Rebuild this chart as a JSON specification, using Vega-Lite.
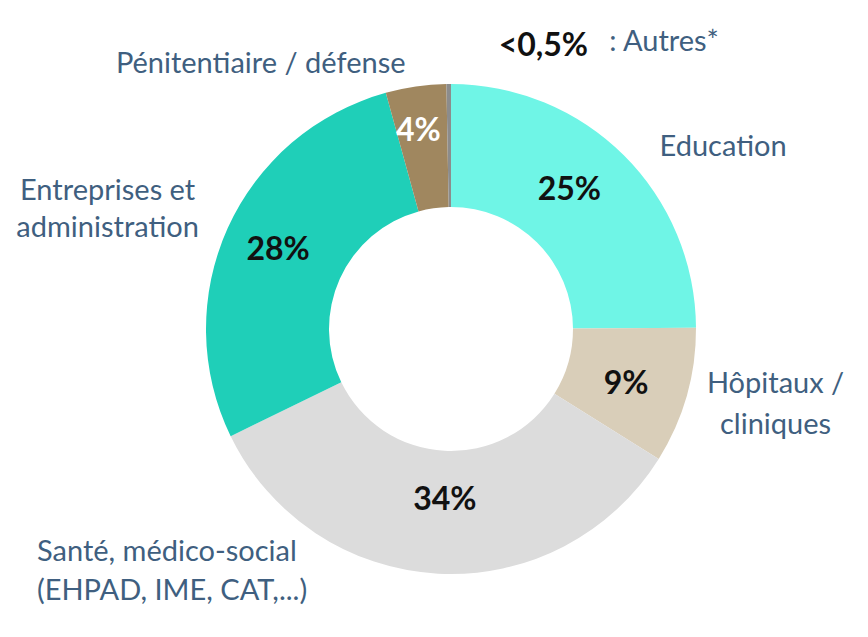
{
  "$schema": "https://vega.github.io/schema/vega-lite/v6.json",
  "autosize": "none",
  "width": 834,
  "height": 616,
  "padding": {"left": 34, "top": 21, "right": 0, "bottom": 0},
  "background": "white",
  "view": {"stroke": null},
  "data": {
    "values": [
      {"cat": "Education", "value": 25, "rank": 1, "pct": "25%", "label": "Education"},
      {"cat": "Hôpitaux / cliniques", "value": 9, "rank": 2, "pct": "9%", "label": "Hôpitaux /\ncliniques"},
      {"cat": "Santé, médico-social", "value": 34, "rank": 3, "pct": "34%", "label": "Santé, médico-social\n(EHPAD, IME, CAT,...)"},
      {"cat": "Entreprises et administration", "value": 28, "rank": 4, "pct": "28%", "label": "Entreprises et\nadministration"},
      {"cat": "Pénitentiaire / défense", "value": 4, "rank": 5, "pct": "4%", "label": "Pénitentiaire / défense"},
      {"cat": "Autres", "value": 0.3, "rank": 6, "pct": "<0,5%", "label": ": Autres*"}
    ]
  },
  "encoding": {
    "theta": {"field": "value", "type": "quantitative", "stack": true},
    "order": {"field": "rank", "type": "quantitative"}
  },
  "layer": [
    {
      "mark": {"type": "arc", "outerRadius": 245, "innerRadius": 122},
      "encoding": {
        "color": {
          "field": "cat",
          "type": "nominal",
          "legend": null,
          "scale": {
            "domain": ["Education", "Hôpitaux / cliniques", "Santé, médico-social", "Entreprises et administration", "Pénitentiaire / défense", "Autres"],
            "range": ["#6ff5e6", "#d9ceb9", "#dcdcdc", "#1fcfb8", "#a0875f", "#8c8c8c"]
          }
        }
      }
    },
    {
      "mark": {"type": "text", "radius": 182, "dx": -10, "dy": -10, "font": "Lato", "fontSize": 32, "fontWeight": "bold", "align": "center", "baseline": "middle", "color": "#111111"},
      "encoding": {"text": {"condition": {"test": "datum.rank == 1", "field": "pct"}, "value": ""}}
    },
    {
      "mark": {"type": "text", "radius": 182, "dy": 5, "font": "Lato", "fontSize": 32, "fontWeight": "bold", "align": "center", "baseline": "middle", "color": "#111111"},
      "encoding": {"text": {"condition": {"test": "datum.rank == 2", "field": "pct"}, "value": ""}}
    },
    {
      "mark": {"type": "text", "radius": 171, "dx": 3, "font": "Lato", "fontSize": 32, "fontWeight": "bold", "align": "center", "baseline": "middle", "color": "#111111"},
      "encoding": {"text": {"condition": {"test": "datum.rank == 3", "field": "pct"}, "value": ""}}
    },
    {
      "mark": {"type": "text", "radius": 182, "dx": -7, "dy": -4, "font": "Lato", "fontSize": 32, "fontWeight": "bold", "align": "center", "baseline": "middle", "color": "#111111"},
      "encoding": {"text": {"condition": {"test": "datum.rank == 4", "field": "pct"}, "value": ""}}
    },
    {
      "mark": {"type": "text", "radius": 200, "dx": -4, "font": "Lato", "fontSize": 32, "fontWeight": "bold", "align": "center", "baseline": "middle", "color": "#ffffff"},
      "encoding": {"text": {"condition": {"test": "datum.rank == 5", "field": "pct"}, "value": ""}}
    },
    {
      "mark": {"type": "text", "radius": 290, "dx": 4, "dy": 24, "font": "Lato", "fontSize": 29, "align": "left", "baseline": "middle", "color": "#3f5f80"},
      "encoding": {"text": {"condition": {"test": "datum.rank == 1", "field": "label"}, "value": ""}}
    },
    {
      "mark": {"type": "text", "radius": 300, "dx": 36, "dy": -27, "font": "Lato", "fontSize": 29, "align": "center", "baseline": "middle", "lineBreak": "\n", "lineHeight": 41, "color": "#3f5f80"},
      "encoding": {"text": {"condition": {"test": "datum.rank == 2", "field": "label"}, "value": ""}}
    },
    {
      "mark": {"type": "text", "radius": 245, "dx": -401, "dy": -22, "font": "Lato", "fontSize": 29, "align": "left", "baseline": "middle", "lineBreak": "\n", "lineHeight": 39, "color": "#3f5f80"},
      "encoding": {"text": {"condition": {"test": "datum.rank == 3", "field": "label"}, "value": ""}}
    },
    {
      "mark": {"type": "text", "radius": 300, "dx": -70, "dy": -14, "font": "Lato", "fontSize": 29, "align": "center", "baseline": "middle", "lineBreak": "\n", "lineHeight": 37, "color": "#3f5f80"},
      "encoding": {"text": {"condition": {"test": "datum.rank == 4", "field": "label"}, "value": ""}}
    },
    {
      "mark": {"type": "text", "radius": 268, "dx": -7, "font": "Lato", "fontSize": 29, "align": "right", "baseline": "middle", "color": "#3f5f80"},
      "encoding": {"text": {"condition": {"test": "datum.rank == 5", "field": "label"}, "value": ""}}
    },
    {
      "mark": {"type": "text", "radius": 283, "dx": 95, "font": "Lato", "fontSize": 32, "fontWeight": "bold", "align": "center", "baseline": "middle", "color": "#111111"},
      "encoding": {"text": {"condition": {"test": "datum.rank == 6", "field": "pct"}, "value": ""}}
    },
    {
      "mark": {"type": "text", "radius": 287, "dx": 161, "font": "Lato", "fontSize": 29, "align": "left", "baseline": "middle", "color": "#3f5f80"},
      "encoding": {"text": {"condition": {"test": "datum.rank == 6", "field": "label"}, "value": ""}}
    }
  ]
}
